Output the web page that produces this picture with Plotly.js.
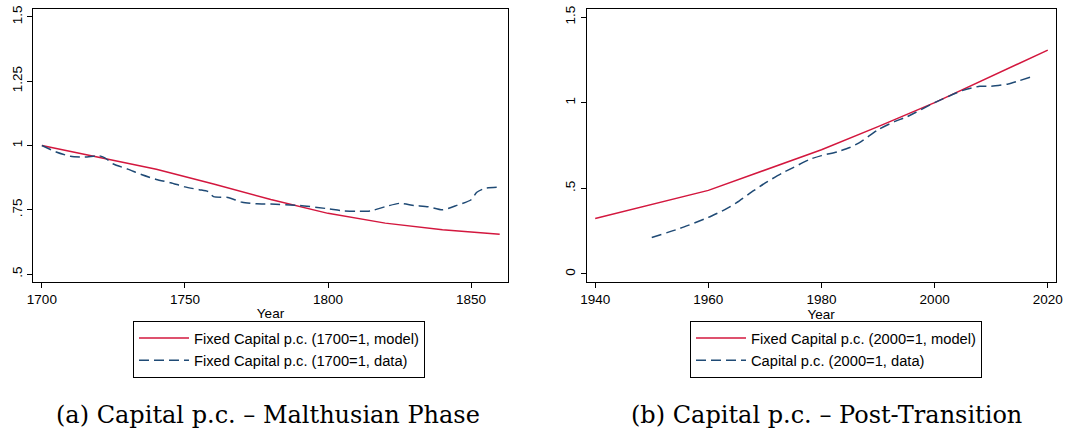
<!DOCTYPE html>
<html>
<head>
<meta charset="utf-8">
<script src="https://cdn.plot.ly/plotly-3.0.1.min.js"></script>
<style>
html,body{margin:0;padding:0;background:#fff;}
#chart{width:1087px;height:437px;}
</style>
</head>
<body>
<div id="chart"></div>
<script>
// Panel (a): Malthusian phase
const yearsModelA = [1700, 1720, 1740, 1760, 1780, 1800, 1820, 1840, 1860];
const modelA = [1.0, 0.955, 0.908, 0.850, 0.790, 0.736, 0.698, 0.672, 0.655];
const yearsDataA = [1700, 1705, 1710, 1715, 1720, 1722, 1725, 1730, 1735, 1740, 1745, 1750, 1755, 1758, 1760, 1765, 1770, 1775, 1780, 1790, 1800, 1805, 1810, 1815, 1820, 1825, 1830, 1835, 1840, 1845, 1850, 1852, 1855, 1860];
const dataA = [1.0, 0.975, 0.958, 0.955, 0.960, 0.952, 0.928, 0.908, 0.886, 0.868, 0.855, 0.839, 0.828, 0.821, 0.801, 0.798, 0.779, 0.773, 0.772, 0.767, 0.754, 0.746, 0.744, 0.746, 0.762, 0.775, 0.767, 0.762, 0.750, 0.767, 0.789, 0.818, 0.834, 0.838];

// Panel (b): Post-transition
const yearsModelB = [1940, 1960, 1980, 1990, 2000, 2020];
const modelB = [0.324, 0.488, 0.725, 0.860, 1.0, 1.307];
const yearsDataB = [1950, 1955, 1960, 1963, 1965, 1968, 1970, 1973, 1975, 1978, 1980, 1983, 1985, 1987, 1990, 1993, 1995, 2000, 2005, 2008, 2010, 2013, 2015, 2017];
const dataB = [0.213, 0.266, 0.330, 0.377, 0.416, 0.486, 0.530, 0.588, 0.621, 0.670, 0.691, 0.715, 0.738, 0.773, 0.842, 0.891, 0.916, 1.0, 1.072, 1.096, 1.096, 1.109, 1.129, 1.150];

const tickValsA = [0.5, 0.75, 1, 1.25, 1.5];
const tickTextA = [".5", ".75", "1", "1.25", "1.5"];
const tickValsB = [0, 0.5, 1, 1.5];
const tickTextB = ["0", ".5", "1", "1.5"];
const xTicksA = [1700, 1750, 1800, 1850];
const xTicksB = [1940, 1960, 1980, 2000, 2020];

const labelsA = ["Fixed Capital p.c. (1700=1, model)", "Fixed Capital p.c. (1700=1, data)"];
const labelsB = ["Fixed Capital p.c. (2000=1, model)", "Capital p.c. (2000=1, data)"];
const captions = ["(a) Capital p.c. – Malthusian Phase", "(b) Capital p.c. – Post-Transition"];

const RED = "#d3173e";
const BLUE = "#1f4a75";
const FONT = "Liberation Sans, Arial, sans-serif";
const SERIF = "DejaVu Serif, serif";

const traces = [
  {x: yearsModelA, y: modelA, type: "scatter", mode: "lines", name: labelsA[0],
   line: {color: RED, width: 1.5}, xaxis: "x", yaxis: "y", legend: "legend"},
  {x: yearsDataA, y: dataA, type: "scatter", mode: "lines", name: labelsA[1],
   line: {color: BLUE, width: 1.5, dash: "10px,5px", shape: "spline", smoothing: 0.6}, xaxis: "x", yaxis: "y", legend: "legend"},
  {x: yearsModelB, y: modelB, type: "scatter", mode: "lines", name: labelsB[0],
   line: {color: RED, width: 1.5}, xaxis: "x2", yaxis: "y2", legend: "legend2"},
  {x: yearsDataB, y: dataB, type: "scatter", mode: "lines", name: labelsB[1],
   line: {color: BLUE, width: 1.5, dash: "10px,5px", shape: "spline", smoothing: 0.6}, xaxis: "x2", yaxis: "y2", legend: "legend2"}
];

const W = 1087, H = 437;
const yTop = 1 - 9 / H, yBot = 1 - 282 / H;

function xax(domain, range, ticks, anchor) {
  return {
    domain: domain, range: range, tickvals: ticks, ticks: "outside", ticklen: 5, tickwidth: 1,
    tickcolor: "#000", showline: true, linecolor: "#000", linewidth: 1, mirror: true,
    showgrid: false, zeroline: false, tickfont: {family: FONT, size: 13.5, color: "#000"},
    title: {text: "Year", font: {family: FONT, size: 13.5, color: "#000"}, standoff: 2},
    anchor: anchor
  };
}
function yax(domain, range, vals, text, anchor) {
  return {
    domain: domain, range: range, tickvals: vals, ticktext: text, tickangle: -90,
    ticks: "outside", ticklen: 5, tickwidth: 1, tickcolor: "#000",
    showline: true, linecolor: "#000", linewidth: 1, mirror: true,
    showgrid: false, zeroline: false, tickfont: {family: FONT, size: 13.5, color: "#000"},
    anchor: anchor
  };
}

function legendBox(xpx) {
  return {
    x: xpx / W, xanchor: "left", y: 1 - 321 / H, yanchor: "top",
    bordercolor: "#000", borderwidth: 1, bgcolor: "#fff",
    font: {family: FONT, size: 14.7, color: "#000"}, itemwidth: 50,
    tracegroupgap: 0
  };
}

const layout = {
  width: W, height: H,
  margin: {l: 0, r: 0, t: 0, b: 0},
  paper_bgcolor: "#fff", plot_bgcolor: "#fff",
  showlegend: true,
  xaxis: xax([33 / W, 508 / W], [1696.9, 1862.9], xTicksA, "y"),
  yaxis: yax([yBot, yTop], [0.469, 1.531], tickValsA, tickTextA, "x"),
  xaxis2: xax([586.7 / W, 1055.7 / W], [1938.5, 2021.4], xTicksB, "y2"),
  yaxis2: yax([yBot, yTop], [-0.047, 1.547], tickValsB, tickTextB, "x2"),
  legend: legendBox(133),
  legend2: legendBox(690),
  annotations: [
    {text: captions[0], x: 268 / W, y: 1 - 415 / H, xref: "paper", yref: "paper",
     xanchor: "center", yanchor: "middle", showarrow: false,
     font: {family: SERIF, size: 24, color: "#000"}},
    {text: captions[1], x: 826 / W, y: 1 - 415 / H, xref: "paper", yref: "paper",
     xanchor: "center", yanchor: "middle", showarrow: false,
     font: {family: SERIF, size: 24, color: "#000"}}
  ]
};

Plotly.newPlot("chart", traces, layout, {displayModeBar: false, staticPlot: true});
</script>
</body>
</html>
